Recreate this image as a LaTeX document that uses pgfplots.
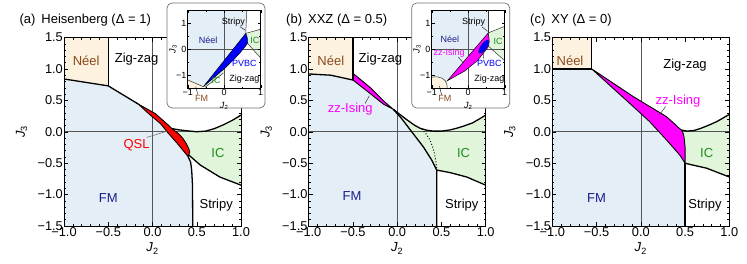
\documentclass[border=0pt]{standalone}
\usepackage{pgfplots}
\pgfplotsset{compat=1.18}
\usepackage{fontspec}
\setmainfont{Liberation Sans}

\definecolor{fmblue}{HTML}{E4EEF7}
\definecolor{neelbg}{HTML}{FDF1DF}
\definecolor{icgreen}{HTML}{E1F5DA}
\definecolor{lbrown}{HTML}{8B4A1C}
\definecolor{lnavy}{HTML}{1C1C8C}
\definecolor{lgreen}{HTML}{1E8C1E}
\definecolor{zeroline}{HTML}{555555}
\definecolor{mag}{HTML}{FF00FF}
\definecolor{pblue}{HTML}{0000FF}

\tikzset{
  lab/.style={font=\fontsize{13}{14}\selectfont},
  ilab/.style={font=\fontsize{9}{10}\selectfont, inner sep=0pt},
}
\pgfplotsset{
  mainax/.style={
    scale only axis, width=177pt, height=188.5pt,
    xmin=-1, xmax=1, ymin=-1.5, ymax=1.5,
    xtick={-1,-0.5,0,0.5,1},
    xticklabels={−1.0,−0.5,0.0,0.5,1.0},
    ytick={-1.5,-1,-0.5,0,0.5,1,1.5},
    yticklabels={−1.5,−1.0,−0.5,0.0,0.5,1.0,1.5},
    minor x tick num=4, minor y tick num=4,
    tick align=inside, major tick length=4pt, minor tick length=2pt,
    tick style={black, line width=0.5pt},
    axis line style={line width=0.8pt},
    tick label style={font=\fontsize{12.8}{13}\selectfont, inner sep=1pt},
    xlabel={\textit{J}\textsubscript{2}},
    ylabel={\textit{J}\textsubscript{3}},
    label style={font=\fontsize{13}{14}\selectfont},
    xlabel style={at={(axis description cs:0.5,-0.12)}, anchor=center},
    ylabel style={at={(axis description cs:-0.24,0.5)}, anchor=center},
    axis on top,
  },
  insetax/.style={
    scale only axis, width=73pt, height=78pt,
    xmin=-1, xmax=1, ymin=-1.5, ymax=1.5,
    xtick={-1,0,1}, xticklabels={−1,0,1},
    ytick={-1,0,1}, yticklabels={−1,0,1},
    minor x tick num=1, minor y tick num=1,
    tick align=inside, major tick length=3pt, minor tick length=1.5pt,
    tick style={black, line width=0.4pt},
    axis line style={line width=0.6pt},
    tick label style={font=\fontsize{9}{10}\selectfont, inner sep=1pt},
    xlabel={\textit{J}\textsubscript{2}},
    ylabel={\textit{J}\textsubscript{3}},
    label style={font=\fontsize{9}{10}\selectfont},
    xlabel style={at={(axis description cs:0.5,-0.23)}, anchor=center},
    ylabel style={at={(axis description cs:-0.2,0.5)}, anchor=center},
    axis on top, clip=false,
  },
  bnd/.style={black, line width=1.3pt, line join=round},
  thinb/.style={black!80, line width=0.5pt},
  zl/.style={zeroline, line width=0.6pt},
}

\begin{document}
\begin{tikzpicture}
\useasboundingbox (0pt,0pt) rectangle (747pt,263pt);

% ---------------- (a) ----------------
\node[anchor=west, font=\fontsize{13}{14}\selectfont] at (16pt,242.5pt) {(a)\hspace{6pt}Heisenberg (Δ = 1)};
\begin{axis}[mainax, at={(64pt,37pt)}, anchor=south west]
\addplot[fill=fmblue, draw=none] coordinates {(-1,-1.5)(-1,0.84)(-0.5,0.73)(-0.16,0.44)(-0.045,0.29)(0.09,0.13)(0.18,-0.026)(0.28,-0.185)(0.37,-0.34)(0.40,-0.39)(0.43,-0.48)(0.443,-0.61)(0.452,-0.85)(0.455,-1.5)} --cycle;
\addplot[fill=neelbg, draw=none] coordinates {(-1,0.84)(-1,1.5)(-0.5,1.5)(-0.5,0.73)} --cycle;
\addplot[fill=icgreen, draw=none] coordinates {(0.22,0.05)(0.3,0.03)(0.386,0.016)(0.5,0.0)(0.6,0.01)(0.7,0.05)(0.8,0.11)(0.9,0.18)(1.0,0.265)(1.0,-0.85)(0.76,-0.72)(0.54,-0.53)(0.41,-0.37)(0.42,-0.32)(0.41,-0.27)(0.38,-0.185)(0.34,-0.10)(0.29,-0.026)} --cycle;
\addplot[zl] coordinates {(0,-1.5)(0,1.5)};
\addplot[zl] coordinates {(-1,0)(1,0)};
\addplot[fill=red, draw=black, line width=0.9pt] coordinates {(-0.16,0.44)(0.03,0.29)(0.16,0.13)(0.22,0.05)(0.29,-0.026)(0.34,-0.10)(0.38,-0.185)(0.41,-0.27)(0.42,-0.32)(0.41,-0.37)(0.40,-0.39)(0.37,-0.34)(0.28,-0.185)(0.18,-0.026)(0.09,0.13)(-0.045,0.29)} --cycle;
\addplot[bnd] coordinates {(-1,0.84)(-0.5,0.73)(-0.16,0.44)};
\addplot[bnd] coordinates {(-0.5,0.73)(-0.5,1.5)};
\addplot[bnd] coordinates {(0.22,0.05)(0.3,0.03)(0.386,0.016)(0.5,0.0)(0.6,0.01)(0.7,0.05)(0.8,0.11)(0.9,0.18)(1.0,0.265)};
\addplot[bnd] coordinates {(0.41,-0.37)(0.54,-0.53)(0.76,-0.72)(1.0,-0.85)};
\addplot[bnd] coordinates {(0.40,-0.39)(0.43,-0.48)(0.443,-0.61)(0.452,-0.85)(0.455,-1.5)};
\addplot[thinb, black!60] coordinates {(-0.065,-0.09)(0.18,0.016)};
\node[lab, text=lbrown] at (axis cs:-0.75,1.13) {Néel};
\node[lab] at (axis cs:-0.18,1.15) {Zig-zag};
\node[lab, text=red] at (axis cs:-0.18,-0.21) {QSL};
\node[lab, text=lgreen] at (axis cs:0.74,-0.345) {IC};
\node[lab, text=lnavy] at (axis cs:-0.5,-1.06) {FM};
\node[lab] at (axis cs:0.72,-1.17) {Stripy};
\end{axis}

% ---------------- (b) ----------------
\node[anchor=west, font=\fontsize{13}{14}\selectfont] at (282.7pt,242.5pt) {(b)\hspace{6pt}XXZ (Δ = 0.5)};
\begin{axis}[mainax, at={(308.7pt,37pt)}, anchor=south west]
\addplot[fill=fmblue, draw=none] coordinates {(-1,-1.5)(-1,0.92)(-0.75,0.90)(-0.5,0.823)(-0.307,0.61)(-0.156,0.44)(-0.044,0.357)(0.05,0.21)(0.164,0.0)(0.295,-0.24)(0.39,-0.45)(0.446,-0.61)(0.446,-1.5)} --cycle;
\addplot[fill=neelbg, draw=none] coordinates {(-1,0.92)(-1,1.5)(-0.5,1.5)(-0.5,0.823)(-0.75,0.90)} --cycle;
\addplot[fill=icgreen, draw=none] coordinates {(-0.044,0.357)(0.1,0.2)(0.2,0.1)(0.26,0.055)(0.33,0.025)(0.41,0.01)(0.5,0.01)(0.6,0.03)(0.67,0.055)(0.75,0.09)(0.85,0.14)(0.936,0.21)(1.0,0.265)(1.0,-0.85)(0.785,-0.72)(0.597,-0.65)(0.446,-0.61)(0.39,-0.45)(0.295,-0.24)(0.164,0.0)(0.05,0.21)} --cycle;
\addplot[zl] coordinates {(0,-1.5)(0,1.5)};
\addplot[zl] coordinates {(-1,0)(1,0)};
\addplot[fill=mag, draw=black, line width=0.9pt] coordinates {(-0.5,0.93)(-0.307,0.706)(-0.156,0.494)(-0.08,0.40)(-0.044,0.357)(-0.156,0.44)(-0.307,0.61)(-0.5,0.823)} --cycle;
\addplot[bnd] coordinates {(-1,0.92)(-0.75,0.90)(-0.5,0.823)};
\addplot[bnd] coordinates {(-0.5,0.823)(-0.5,1.5)};
\addplot[bnd] coordinates {(-0.044,0.357)(0.1,0.2)(0.2,0.1)(0.26,0.055)(0.33,0.025)(0.41,0.01)(0.5,0.01)(0.6,0.03)(0.67,0.055)(0.75,0.09)(0.85,0.14)(0.936,0.21)(1.0,0.265)};
\addplot[bnd] coordinates {(-0.044,0.357)(0.05,0.21)(0.164,0.0)(0.295,-0.24)(0.39,-0.45)(0.446,-0.61)(0.446,-1.5)};
\addplot[bnd] coordinates {(0.446,-0.61)(0.597,-0.65)(0.785,-0.72)(1.0,-0.85)};
\addplot[black, line width=1pt, dotted] coordinates {(0.277,0.045)(0.33,-0.04)(0.37,-0.13)(0.40,-0.24)(0.42,-0.34)(0.435,-0.46)(0.446,-0.58)};
\addplot[thinb] coordinates {(-0.363,0.45)(-0.315,0.573)};
\node[lab, text=lbrown] at (axis cs:-0.75,1.13) {Néel};
\node[lab] at (axis cs:-0.19,1.15) {Zig-zag};
\node[lab, text=mag] at (axis cs:-0.53,0.36) {zz-Ising};
\node[lab, text=lgreen] at (axis cs:0.75,-0.345) {IC};
\node[lab, text=lnavy] at (axis cs:-0.51,-1.03) {FM};
\node[lab] at (axis cs:0.73,-1.17) {Stripy};
\end{axis}

% ---------------- (c) ----------------
\node[anchor=west, font=\fontsize{13}{14}\selectfont] at (526.7pt,242.5pt) {(c)\hspace{6pt}XY (Δ = 0)};
\begin{axis}[mainax, at={(552.3pt,37pt)}, anchor=south west]
\addplot[fill=fmblue, draw=none] coordinates {(-1,-1.5)(-1,1)(-0.555,1)(-0.085,0.40)(0.10,0.16)(0.29,-0.13)(0.44,-0.37)(0.5,-0.5)(0.5,-1.5)} --cycle;
\addplot[fill=neelbg, draw=none] coordinates {(-1,1)(-1,1.5)(-0.555,1.5)(-0.555,1)} --cycle;
\addplot[fill=icgreen, draw=none] coordinates {(0.46,0.027)(0.52,0.01)(0.6,0.02)(0.67,0.05)(0.76,0.1)(0.857,0.16)(1.0,0.276)(1.0,-0.72)(0.744,-0.58)(0.556,-0.52)(0.5,-0.5)(0.5,-0.24)(0.49,-0.1)(0.48,-0.03)} --cycle;
\addplot[zl] coordinates {(0,-1.5)(0,1.5)};
\addplot[zl] coordinates {(-1,0)(1,0)};
\addplot[fill=mag, draw=black, line width=0.9pt] coordinates {(-0.555,1)(-0.085,0.56)(0.29,0.24)(0.386,0.12)(0.43,0.06)(0.46,0.027)(0.48,-0.03)(0.49,-0.1)(0.5,-0.24)(0.5,-0.5)(0.44,-0.37)(0.29,-0.13)(0.10,0.16)(-0.085,0.40)} --cycle;
\addplot[bnd] coordinates {(-1,1)(-0.555,1)};
\addplot[bnd] coordinates {(-0.555,1)(-0.555,1.5)};
\addplot[bnd] coordinates {(0.46,0.027)(0.52,0.01)(0.6,0.02)(0.67,0.05)(0.76,0.1)(0.857,0.16)(1.0,0.276)};
\addplot[bnd] coordinates {(0.5,-0.5)(0.556,-0.52)(0.744,-0.58)(1.0,-0.72)};
\addplot[bnd] coordinates {(0.5,-0.5)(0.5,-1.5)};
\addplot[thinb] coordinates {(0.28,0.40)(0.21,0.27)};
\node[lab, text=lbrown] at (axis cs:-0.80,1.13) {Néel};
\node[lab] at (axis cs:0.5,1.06) {Zig-zag};
\node[lab, text=mag] at (axis cs:0.42,0.48) {zz-Ising};
\node[lab, text=lgreen] at (axis cs:0.745,-0.345) {IC};
\node[lab, text=lnavy] at (axis cs:-0.5,-1.06) {FM};
\node[lab] at (axis cs:0.725,-1.17) {Stripy};
\end{axis}

% ---------------- inset (a) ----------------
\draw[rounded corners=5pt, draw=black!55, line width=0.7pt, fill=white] (167pt,155pt) rectangle (265pt,260pt);
\begin{axis}[insetax, at={(187.7pt,175pt)}, anchor=south west]
\addplot[fill=fmblue, draw=none] coordinates {(-1,-1.5)(-1,1.5)(1,1.5)(1,-1.5)} --cycle;
\addplot[fill=white, draw=none] coordinates {(0.59,0.60)(0.62,1.5)(1,1.5)(1,0.76)} --cycle;
\addplot[fill=icgreen, draw=none] coordinates {(0.59,0.60)(1,0.76)(1,-0.35)(0.64,0.22)} --cycle;
\addplot[fill=white, draw=none] coordinates {(-0.57,-1.45)(-0.2,-1.0)(0.05,-0.70)(0.25,-0.42)(0.42,-0.17)(0.55,0.05)(0.64,0.22)(1,-0.35)(1,-1.5)(-0.6,-1.5)} --cycle;
\addplot[fill=icgreen, draw=none] coordinates {(-0.57,-1.45)(-0.2,-1.0)(0.02,-0.72)(-0.02,-0.92)(-0.52,-1.47)} --cycle;
\addplot[fill=neelbg, draw=none] coordinates {(-1,-1.19)(-0.57,-1.45)(-0.6,-1.5)(-1,-1.5)} --cycle;
\addplot[zl, line width=0.5pt] coordinates {(0,-1.5)(0,1.5)};
\addplot[zl, line width=0.5pt] coordinates {(-1,0)(1,0)};
\addplot[fill=pblue, draw=black, line width=0.5pt] coordinates {(-0.57,-1.45)(0.59,0.60)(0.63,0.45)(0.64,0.22)(0.55,0.05)(0.42,-0.17)(0.25,-0.42)(0.05,-0.70)(-0.2,-1.0)} --cycle;
\addplot[thinb] coordinates {(0.59,0.60)(0.62,1.5)};
\addplot[thinb] coordinates {(0.59,0.60)(1,0.76)};
\addplot[thinb] coordinates {(0.64,0.22)(1,-0.35)};
\addplot[thinb] coordinates {(-1,-1.19)(-0.57,-1.45)};
\addplot[thinb] coordinates {(-0.02,-0.92)(-0.52,-1.47)};
\addplot[thinb] coordinates {(0.43,0.86)(0.58,0.72)};
\addplot[thinb] coordinates {(-0.72,-1.75)(-0.78,-1.46)};
\node[ilab] at (axis cs:0.25,1.05) {Stripy};
\node[ilab, text=lnavy] at (axis cs:-0.44,0.35) {Néel};
\node[ilab, text=pblue] at (axis cs:0.55,-0.55) {PVBC};
\node[ilab, text=lgreen] at (axis cs:0.84,0.32) {IC};
\node[ilab, text=lgreen] at (axis cs:-0.22,-1.19) {IC};
\node[ilab] at (axis cs:0.55,-1.17) {Zig-zag};
\node[ilab, text=lbrown] at (axis cs:-0.62,-1.9) {FM};
\end{axis}

% ---------------- inset (b) ----------------
\draw[rounded corners=5pt, draw=black!55, line width=0.7pt, fill=white] (411.7pt,155pt) rectangle (509.7pt,260pt);
\begin{axis}[insetax, at={(431.7pt,175pt)}, anchor=south west]
\addplot[fill=fmblue, draw=none] coordinates {(-1,-1.5)(-1,1.5)(1,1.5)(1,-1.5)} --cycle;
\addplot[fill=white, draw=none] coordinates {(0.55,0.62)(0.55,1.5)(1,1.5)(1,0.87)} --cycle;
\addplot[fill=icgreen, draw=none] coordinates {(0.55,0.62)(1,0.87)(1,-0.45)(0.56,0.1)(0.575,0.35)} --cycle;
\addplot[fill=white, draw=none] coordinates {(-0.57,-1.22)(-0.1,-0.85)(0.25,-0.45)(0.45,-0.1)(0.56,0.1)(1,-0.45)(1,-1.5)(-0.57,-1.5)} --cycle;
\addplot[fill=neelbg, draw=none] coordinates {(-1,-1.5)(-1,-1.08)(-0.85,-1.07)(-0.72,-1.12)(-0.63,-1.22)(-0.585,-1.35)(-0.575,-1.5)} --cycle;
\addplot[zl, line width=0.5pt] coordinates {(0,-1.5)(0,1.5)};
\addplot[zl, line width=0.5pt] coordinates {(-1,0)(1,0)};
\addplot[fill=mag, draw=black, line width=0.5pt] coordinates {(-0.57,-1.22)(0.55,0.62)(0.575,0.35)(0.56,0.1)(0.45,-0.1)(0.25,-0.45)(-0.1,-0.85)} --cycle;
\addplot[fill=pblue, draw=lnavy, line width=0.5pt] coordinates {(0.556,0.342)(0.505,0.341)(0.435,0.273)(0.363,0.156)(0.309,0.021)(0.287,-0.095)(0.304,-0.162)(0.355,-0.161)(0.425,-0.093)(0.497,0.024)(0.551,0.159)(0.573,0.275)} --cycle;
\addplot[thinb] coordinates {(0.55,0.62)(0.55,1.5)};
\addplot[thinb] coordinates {(0.55,0.62)(1,0.87)};
\addplot[thinb] coordinates {(0.56,0.1)(1,-0.45)};
\addplot[thinb] coordinates {(-1,-1.08)(-0.85,-1.07)(-0.72,-1.12)(-0.63,-1.22)(-0.585,-1.35)(-0.575,-1.5)};
\addplot[thinb] coordinates {(0.38,0.85)(0.53,0.68)};
\addplot[thinb] coordinates {(-0.27,-0.31)(-0.13,-0.54)};
\addplot[thinb] coordinates {(0.42,-0.36)(0.41,-0.12)};
\addplot[thinb] coordinates {(-0.73,-1.76)(-0.79,-1.42)};
\node[ilab] at (axis cs:0.15,1.03) {Stripy};
\node[ilab, text=lnavy] at (axis cs:-0.5,0.38) {Néel};
\node[ilab, text=mag] at (axis cs:-0.52,-0.15) {zz-Ising};
\node[ilab, text=pblue] at (axis cs:0.58,-0.55) {PVBC};
\node[ilab, text=lgreen] at (axis cs:0.82,0.3) {IC};
\node[ilab] at (axis cs:0.58,-1.15) {Zig-zag};
\node[ilab, text=lbrown] at (axis cs:-0.64,-1.9) {FM};
\end{axis}
\end{tikzpicture}
\end{document}
